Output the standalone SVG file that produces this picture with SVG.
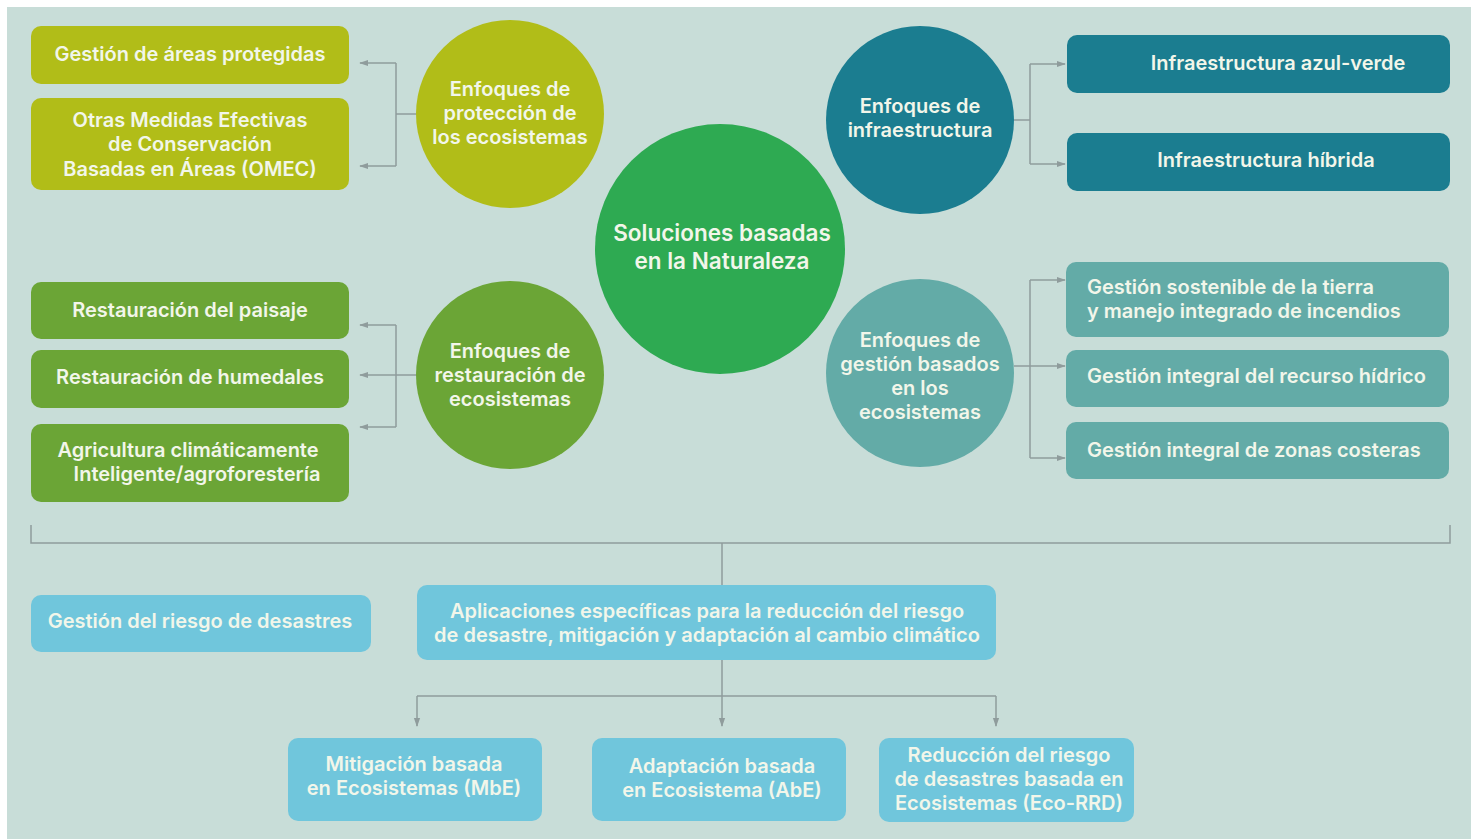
<svg xmlns="http://www.w3.org/2000/svg" width="1475" height="839" viewBox="0 0 1475 839">
<defs>
<marker id="arr" viewBox="0 0 10 10" refX="9" refY="5" markerWidth="9" markerHeight="9" orient="auto" markerUnits="userSpaceOnUse">
<path d="M0,1.5 L10,5 L0,8.5 Z" fill="#8f9c9c"/>
</marker>
<style>
.t{font-family:Inter,"Open Sans","Liberation Sans",sans-serif;font-weight:600;font-size:20px;fill:#f2f6ea;text-anchor:middle}
.tl{text-anchor:start}
.big{font-size:22.5px}
.c{fill:none;stroke:#8f9c9c;stroke-width:1.5}
.y{fill:#b1bd18}
.g{fill:#6ba536}
.dt{fill:#1b7d90}
.mt{fill:#63aba7}
.lb{fill:#70c6dc}
</style>
</defs>
<rect x="0" y="0" width="1475" height="839" fill="#ffffff"/>
<rect x="7" y="7" width="1464" height="832" fill="#c8ddd8"/>

<g id="connectors">
<path class="c" d="M416,114 H396 M396,63 V166"/>
<path class="c" d="M396,63 H360" marker-end="url(#arr)"/>
<path class="c" d="M396,166 H360" marker-end="url(#arr)"/>
<path class="c" d="M1014,120 H1030 M1030,64 V164"/>
<path class="c" d="M1030,64 H1065" marker-end="url(#arr)"/>
<path class="c" d="M1030,164 H1065" marker-end="url(#arr)"/>
<path class="c" d="M416,375 H396 M396,325 V427"/>
<path class="c" d="M396,325 H360" marker-end="url(#arr)"/>
<path class="c" d="M396,375 H360" marker-end="url(#arr)"/>
<path class="c" d="M396,427 H360" marker-end="url(#arr)"/>
<path class="c" d="M1014,366 H1030 M1030,280 V458"/>
<path class="c" d="M1030,280 H1065" marker-end="url(#arr)"/>
<path class="c" d="M1030,366 H1065" marker-end="url(#arr)"/>
<path class="c" d="M1030,458 H1065" marker-end="url(#arr)"/>
<path class="c" d="M31,525 V543 H1450 V525 M722,543 V585"/>
<path class="c" d="M722,660 V696 M417,696 H996"/>
<path class="c" d="M417,696 V726" marker-end="url(#arr)"/>
<path class="c" d="M722,696 V726" marker-end="url(#arr)"/>
<path class="c" d="M996,696 V726" marker-end="url(#arr)"/>
</g>

<g id="n-areas"><rect class="y" x="31" y="26" width="318" height="58" rx="10"/><text class="t" x="190" y="61">Gestión de áreas protegidas</text></g>
<g id="n-omec"><rect class="y" x="31" y="98" width="318" height="92" rx="10"/><text class="t" x="190" y="127">Otras Medidas Efectivas</text><text class="t" x="190" y="151">de Conservación</text><text class="t" x="190" y="176">Basadas en Áreas (OMEC)</text></g>
<g id="n-proteccion"><circle class="y" cx="510" cy="114" r="94"/><text class="t" x="510" y="96">Enfoques de</text><text class="t" x="510" y="120">protección de</text><text class="t" x="510" y="144">los ecosistemas</text></g>

<g id="n-sbn"><circle cx="720" cy="249" r="125" fill="#2eaa52"/><text class="t big" x="722" y="241">Soluciones basadas</text><text class="t big" x="722" y="269">en la Naturaleza</text></g>

<g id="n-infra"><circle class="dt" cx="920" cy="120" r="94"/><text class="t" x="920" y="113">Enfoques de</text><text class="t" x="920" y="137">infraestructura</text></g>
<g id="n-azulverde"><rect class="dt" x="1067" y="35" width="383" height="58" rx="10"/><text class="t" x="1278" y="70">Infraestructura azul-verde</text></g>
<g id="n-hibrida"><rect class="dt" x="1067" y="133" width="383" height="58" rx="10"/><text class="t" x="1266" y="167">Infraestructura híbrida</text></g>

<g id="n-paisaje"><rect class="g" x="31" y="282" width="318" height="57" rx="10"/><text class="t" x="190" y="317">Restauración del paisaje</text></g>
<g id="n-humedales"><rect class="g" x="31" y="350" width="318" height="58" rx="10"/><text class="t" x="190" y="384">Restauración de humedales</text></g>
<g id="n-agri"><rect class="g" x="31" y="424" width="318" height="78" rx="10"/><text class="t" x="188" y="457">Agricultura climáticamente</text><text class="t" x="197" y="481">Inteligente/agroforestería</text></g>
<g id="n-restauracion"><circle class="g" cx="510" cy="375" r="94"/><text class="t" x="510" y="358">Enfoques de</text><text class="t" x="510" y="382">restauración de</text><text class="t" x="510" y="406">ecosistemas</text></g>

<g id="n-gestion"><circle class="mt" cx="920" cy="373" r="94"/><text class="t" x="920" y="347">Enfoques de</text><text class="t" x="920" y="371">gestión basados</text><text class="t" x="920" y="395">en los</text><text class="t" x="920" y="419">ecosistemas</text></g>
<g id="n-tierra"><rect class="mt" x="1066" y="262" width="383" height="75" rx="10"/><text class="t tl" x="1087" y="294">Gestión sostenible de la tierra</text><text class="t tl" x="1087" y="318">y manejo integrado de incendios</text></g>
<g id="n-hidrico"><rect class="mt" x="1066" y="350" width="383" height="57" rx="10"/><text class="t tl" x="1087" y="383">Gestión integral del recurso hídrico</text></g>
<g id="n-costeras"><rect class="mt" x="1066" y="422" width="383" height="57" rx="10"/><text class="t tl" x="1087" y="457">Gestión integral de zonas costeras</text></g>

<g id="n-riesgo"><rect class="lb" x="31" y="595" width="340" height="57" rx="10"/><text class="t" x="200" y="628">Gestión del riesgo de desastres</text></g>
<g id="n-aplicaciones"><rect class="lb" x="417" y="585" width="579" height="75" rx="10"/><text class="t" x="707" y="618">Aplicaciones específicas para la reducción del riesgo</text><text class="t" x="707" y="642">de desastre, mitigación y adaptación al cambio climático</text></g>
<g id="n-mbe"><rect class="lb" x="288" y="738" width="254" height="83" rx="10"/><text class="t" x="414" y="771">Mitigación basada</text><text class="t" x="414" y="795">en Ecosistemas (MbE)</text></g>
<g id="n-abe"><rect class="lb" x="592" y="738" width="254" height="83" rx="10"/><text class="t" x="722" y="773">Adaptación basada</text><text class="t" x="722" y="797">en Ecosistema (AbE)</text></g>
<g id="n-ecorrd"><rect class="lb" x="879" y="738" width="255" height="84" rx="10"/><text class="t" x="1009" y="762">Reducción del riesgo</text><text class="t" x="1009" y="786">de desastres basada en</text><text class="t" x="1009" y="810">Ecosistemas (Eco-RRD)</text></g>
</svg>
